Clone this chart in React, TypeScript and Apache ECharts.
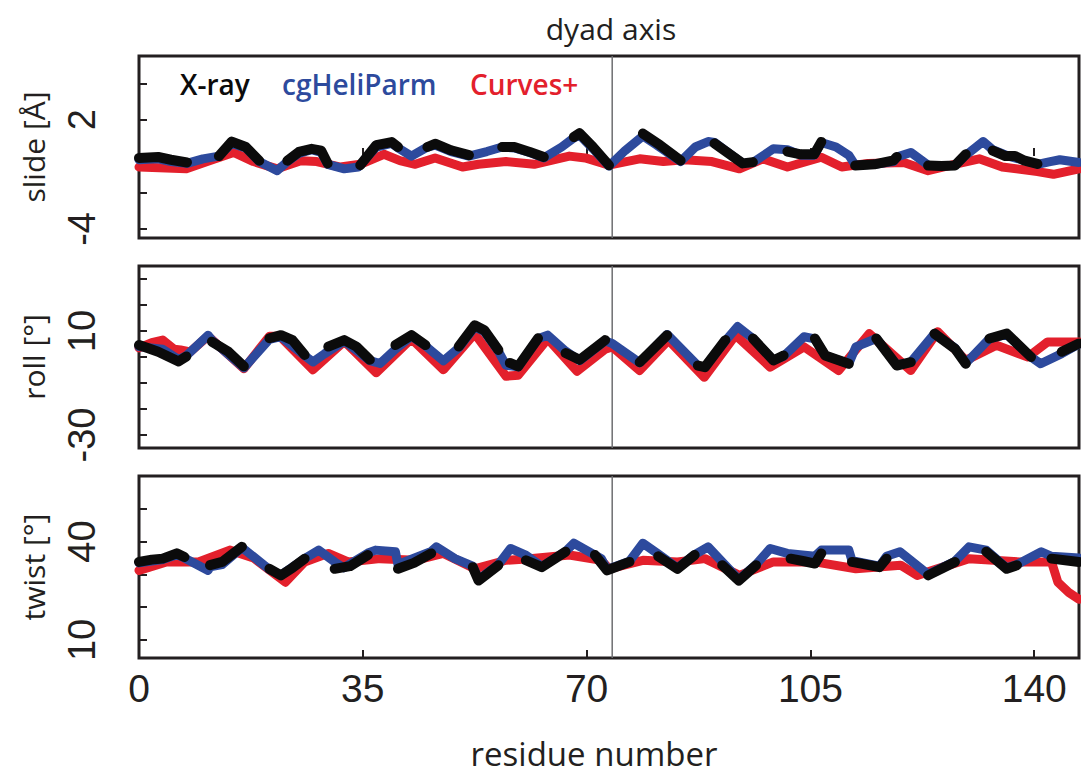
import React, { useEffect, useRef } from "react";
import * as echarts from "echarts";

type Pt = [number, number] | null;

// ---- axes / ticks ----
const residueTicks = [35, 70, 105, 140];
const residueLabels = [0, 35, 70, 105, 140];
const residueMax = 147;
const dyadResidue = 74;

const slideRange = [-4.5, 5.5];
const slideTicks = [-4, -2, 0, 2, 4];
const slideLabels = [-4, 2];
const rollRange = [-35, 35];
const rollTicks = [-30, -20, -10, 0, 10, 20, 30];
const rollLabels = [-30, 10];
const twistRange = [4.5, 60];
const twistTicks = [10, 20, 30, 40, 50];
const twistLabels = [10, 40];

const panelNames = ["slide [Å]", "roll [°]", "twist [°]"];
const legendNames = ["X-ray", "cgHeliParm", "Curves+"];

// ---- slide ----
const slideXray: Pt[] = [
  [0, -0.1], [3, -0.05], [5, -0.2], [7.5, -0.35], null,
  [12.5, 0.0], [14.5, 0.8], [16.7, 0.5], [18.8, -0.25], null,
  [23.2, -0.25], [25, 0.23], [27, 0.4], [28.5, 0.3], [29.5, -0.4], null,
  [34.6, -0.5], [37.1, 0.6], [39.5, 0.77], [40.5, 0.5], null,
  [45.1, 0.5], [46.3, 0.68], [48.8, 0.32], [51.6, 0.05], null,
  [56.8, 0.5], [58.7, 0.5], [61.1, 0.23], [63.3, -0.05], null,
  [68, 1.05], [68.9, 1.26], [71, 0.5], [73.5, -0.5], null,
  [78.8, 1.24], [81.5, 0.6], [84.7, -0.24], null,
  [90, 0.7], [94.4, -0.4], [96, -0.33], null,
  [101.4, 0.25], [103.5, 0.1], [105.6, 0.1], [106.7, 0.78], null,
  [112, -0.52], [115, -0.45], [118, -0.24], [118.5, -0.05], null,
  [123.4, -0.52], [125.5, -0.55], [127.6, -0.52], [129.3, 0.1], null,
  [133.5, 0.3], [135.5, 0.0], [137, 0.0], [138.5, -0.25], [140.5, -0.43],
];
const slideHeli: Pt[] = [
  [0, -0.2], [3, -0.15], [5, -0.3], [7.5, -0.4], [10, -0.15], [12.5, 0.0], [14.5, 0.7],
  [16.7, 0.45], [18.8, -0.3], [21.6, -0.8], [23.2, -0.3], [25, 0.15], [27, 0.35], [28.5, 0.2],
  [29.5, -0.45], [32.1, -0.7], [34.3, -0.6], [37.1, 0.5], [39.5, 0.7], [40.5, 0.45], [42.6, 0.0],
  [45.1, 0.5], [46.3, 0.6], [48.8, 0.25], [51.6, 0.0], [54.4, 0.25], [56.8, 0.5], [58.7, 0.45],
  [61.1, 0.2], [63.3, -0.1], [66.1, 0.5], [68, 1.0], [68.9, 1.15], [71, 0.4], [73.5, -0.55],
  [76, 0.3], [78.8, 1.1], [81, 0.6], [84.7, -0.3], [87, 0.5], [89, 0.8], [90, 0.75], [94.4, -0.4],
  [96, -0.35], [99.2, 0.4], [101.4, 0.35], [103.5, 0.05], [105.6, 0.05], [106.7, 0.75], [109, 0.5],
  [111, 0.05], [112, -0.5], [115, -0.45], [118, -0.3], [118.5, -0.05], [120.7, 0.2], [123.4, -0.5],
  [125.5, -0.55], [127.6, -0.5], [129.3, 0.05], [132, 0.8], [133.5, 0.35], [136, 0.0], [138, -0.2],
  [140.5, -0.45], [142.5, -0.3], [144, -0.2], [147, -0.35],
];
const slideCurves: Pt[] = [
  [0, -0.6], [7.4, -0.7], [11, -0.25], [14.8, 0.2], [17.9, -0.3], [21.6, -0.7], [25.3, -0.25],
  [27.8, -0.3], [31.5, -0.6], [34.6, -0.45], [38.3, 0.1], [40.8, -0.25], [43.2, -0.45], [46.3, -0.1],
  [50.6, -0.6], [53.1, -0.45], [57.4, -0.3], [61.8, -0.45], [67.3, 0.0], [69.8, -0.1], [73.5, -0.5],
  [78.3, -0.15], [82, -0.3], [85.3, -0.2], [89.6, -0.3], [93.9, -0.7], [97.6, -0.15], [101.4, -0.6],
  [106.7, -0.06], [109.9, -0.6], [114, -0.4], [119.6, -0.35], [123.4, -0.8], [127, -0.5],
  [131.4, -0.15], [135, -0.6], [140.5, -0.85], [143, -1.0], [147, -0.7],
];

// ---- roll ----
const rollXray: Pt[] = [
  [0, 4.6], [3, 2], [6.2, -1.7], [7.4, 0.2], null,
  [11.4, 5.9], [14, 2], [16.4, -3.6], null,
  [20.4, 7.2], [22.2, 8.4], [24, 6.5], [25.9, 0.8], null,
  [29.6, 4.0], [32.1, 6.5], [34, 4], [36.1, -1.1], null,
  [40.1, 4.6], [42.6, 8.4], [44.8, 4.6], null,
  [50, 4.0], [52.5, 12.2], [54, 10.3], [56.2, 2.7], null,
  [58, -2.3], [59.3, -3.6], [62.4, 7.2], null,
  [66.7, 1.5], [68.9, -1.1], [72.9, 6.5], null,
  [78.3, -2], [82.6, 8.4], null,
  [87.4, -3.3], [88.5, -3.9], [91.7, 6.5], null,
  [96, 7.1], [99.2, -1.3], [100.8, 0.6], null,
  [105.7, 7.1], [107.3, 0.6], [111, -2.6], null,
  [115.3, 7.1], [118.5, -3.3], [120.7, -2.0], null,
  [124.4, 9.0], [127.6, 3.2], [129.3, -2.6], null,
  [133, 7.1], [135.7, 9.0], [139.5, 0.0], null,
  [144.3, 2.0], [147, 5.2],
];
const rollHeli: Pt[] = [
  [0, 4.0], [3.7, 3.0], [6.2, -1.0], [7.4, 0.5], [10.8, 8.4], [11.4, 6.5], [16.4, -4.2], [20.4, 6.8],
  [22.2, 7.8], [25.9, 0.5], [27.2, -1.9], [29, 1.2], [32.1, 6.2], [36.1, -1.4], [37.7, -2.5],
  [40.1, 3.0], [42.6, 8.0], [44.8, 4.3], [47.6, -1.5], [50, 3.5], [52.5, 11.5], [54, 9.8], [56.2, 2.3],
  [57.4, -3.2], [59.3, -3.8], [62.4, 7.0], [63.9, 8.4], [66.7, 2.3], [68.9, -1.4], [72.9, 6.2],
  [74, 5.2], [78.3, -2.2], [82.6, 8.7], [87.4, -3.3], [88.5, -3.9], [91.7, 6.2], [93.6, 11.7],
  [96, 7.1], [99.2, -1.3], [100.8, 0.3], [104, 7.8], [105.7, 7.0], [107.3, 0.6], [111, -2.6],
  [112.1, 3.9], [115.3, 7.1], [118.5, -3.0], [120.7, -2.0], [124.4, 9.0], [127.6, 3.5], [129.3, -2.4],
  [133, 7.1], [135.7, 8.7], [139.5, 0.0], [141, -2.6], [144.3, 1.3], [147, 5.0],
];
const rollCurves: Pt[] = [
  [0, 3.5], [2, 5.5], [3.7, 6.5], [5.5, 3], [6.5, 2.7], [8, 2], [10.8, 8], [16.4, -4.5], [20.4, 8],
  [22, 8], [27.2, -4.9], [32.1, 6], [37.1, -6.1], [42.6, 7], [47.6, -4.9], [52.5, 9], [57.4, -7.4],
  [59.3, -7], [63.9, 7], [68.5, -5.5], [72.9, 3], [74, 3.9], [78.3, -5.2], [82.8, 6.5], [88.4, -7.8],
  [93.3, 8.4], [98.7, -3.9], [104, 3.9], [109.4, -5.2], [114.2, 9.0], [120.7, -5.2], [124.9, 9.7],
  [129.3, -1.3], [134.1, 4.5], [139, 0.0], [142.1, 5.8], [147, 5.8],
];

// ---- twist ----
const twistXray: Pt[] = [
  [0, 33.8], [2, 34.5], [3.7, 34.8], [5.9, 36.4], [7.1, 35.3], null,
  [11.1, 32.8], [13, 33.8], [16.1, 38.4], null,
  [20.4, 31.7], [22.2, 29.7], [24, 32], [25.9, 34.8], null,
  [30.6, 31.7], [33, 32.5], [35.8, 35.9], null,
  [40.5, 31.7], [43, 33.5], [45.7, 36.4], null,
  [52.2, 32.2], [53.1, 28.1], [56.2, 32.8], null,
  [60.5, 34.3], [63, 32.2], [66.7, 36.9], null,
  [71.3, 35.9], [73.2, 31.2], [76.7, 33.8], null,
  [81.2, 35.5], [84.2, 31.7], [86.9, 35.9], null,
  [91.2, 32.8], [93.8, 28.1], [96.5, 32.8], null,
  [101.9, 34.8], [104, 34], [105.7, 33.3], [106.7, 36.4], null,
  [111.5, 33.8], [115.8, 32.2], [116.9, 34.8], null,
  [123.4, 29.7], [127.6, 33.8], null,
  [132.5, 36.9], [135.7, 31.7], [137.3, 32.8], null,
  [142.7, 34.8], [147, 33.8],
];
const twistHeli: Pt[] = [
  [0, 33.5], [3.7, 34.5], [5.9, 36], [7.1, 35], [10.8, 31.2], [11.1, 32.3], [13, 33], [16.1, 38.2],
  [20.4, 31.5], [22.2, 29.8], [25.9, 34.8], [28.1, 37.4], [30.6, 33.8], [32, 32], [35.8, 36.5],
  [37, 37.4], [40.1, 36.9], [40.5, 33], [45.7, 37], [46.5, 38.4], [49.4, 34.8], [52.2, 32.5],
  [53.1, 28.5], [56.2, 33], [58.1, 37.9], [60.5, 35.9], [63, 32.4], [66.7, 37], [68, 39.5],
  [72.3, 34.8], [73.2, 31.5], [76.7, 34], [78.8, 39.5], [81.2, 36.2], [84.2, 32], [86.9, 36],
  [89, 38.4], [91.2, 33.8], [93.8, 28.5], [96.5, 33], [98.7, 37.9], [101.4, 36.4], [105.7, 35.5],
  [106.7, 37.4], [111, 37.4], [111.5, 34.2], [115.8, 32.5], [116.9, 35.5], [119, 36.9],
  [123.4, 30.0], [127.6, 34.0], [129.8, 38.4], [132.5, 37.4], [135.7, 32.0], [137.3, 33],
  [141.1, 36.9], [142.7, 35.5], [147, 35.0],
];
const twistCurves: Pt[] = [
  [0, 31.2], [4.3, 33.8], [9.3, 33.8], [14.2, 37.4], [17.9, 35.0], [22.9, 27.6], [25.9, 33.8],
  [29.6, 36.4], [32.7, 33.8], [37.7, 34.8], [43.2, 34.3], [47.6, 36.4], [52.5, 31.7], [57.4, 34.3],
  [61.1, 34.8], [67.3, 35.9], [72.3, 34.3], [73.5, 31.7], [78.8, 34.3], [84.2, 33.8], [88.5, 34.8],
  [93.9, 29.7], [99.2, 33.8], [105.7, 33.8], [112.1, 31.7], [119.1, 32.8], [121.7, 29.7],
  [129.8, 34.8], [137.8, 33.8], [142.7, 33.8], [143.7, 27.6], [145.4, 24.5], [147, 22.4],
];

const INK = "#231f20";
const BLACK = "#0b0b0b";
const BLUE = "#2d4a9d";
const RED = "#e3202c";
const SANS = "'Open Sans', 'Noto Sans', sans-serif";
const NUM = "'Liberation Sans', Arial, sans-serif";

function splitSegments(data: Pt[]): [number, number][][] {
  const segs: [number, number][][] = [];
  let cur: [number, number][] = [];
  for (const p of data) {
    if (p === null) {
      if (cur.length) segs.push(cur);
      cur = [];
    } else cur.push(p);
  }
  if (cur.length) segs.push(cur);
  return segs;
}

export default function App() {
  const ref = useRef<HTMLDivElement>(null);

  useEffect(() => {
    document.body.style.margin = "0";
    const chart = echarts.init(ref.current!, undefined, { renderer: "svg" });

    const panels = [
      { range: slideRange, ticks: slideTicks, labels: slideLabels, xray: slideXray, heli: slideHeli, curves: slideCurves },
      { range: rollRange, ticks: rollTicks, labels: rollLabels, xray: rollXray, heli: rollHeli, curves: rollCurves },
      { range: twistRange, ticks: twistTicks, labels: twistLabels, xray: twistXray, heli: twistHeli, curves: twistCurves },
    ];
    const tops = [56, 266, 476];

    const grid = tops.map((t) => ({
      left: 139,
      top: t,
      width: 940,
      height: 182,
      show: true,
      borderColor: INK,
      borderWidth: 3,
      backgroundColor: "transparent",
    }));

    const xAxis = panels.map((_, i) => ({
      type: "value",
      gridIndex: i,
      min: 0,
      max: residueMax,
      axisLine: { show: false },
      splitLine: { show: false },
      axisTick: {
        show: i !== 1,
        inside: true,
        length: 8,
        customValues: residueTicks,
        lineStyle: { color: INK, width: 2 },
      },
      axisLabel: {
        show: i === 2,
        customValues: residueLabels,
        fontSize: 39,
        fontFamily: NUM,
        color: INK,
        margin: 11,
      },
    }));

    const yAxis = panels.map((p, i) => ({
      type: "value",
      gridIndex: i,
      min: p.range[0],
      max: p.range[1],
      name: panelNames[i],
      nameLocation: "middle",
      nameRotate: 90,
      nameGap: 91,
      nameTextStyle: { fontSize: 30, fontFamily: SANS, color: INK },
      axisLine: { show: false },
      splitLine: { show: false },
      axisTick: {
        show: true,
        inside: true,
        length: 8,
        customValues: p.ticks,
        lineStyle: { color: INK, width: 2 },
      },
      axisLabel: {
        show: true,
        customValues: p.labels,
        rotate: 90,
        fontSize: 38,
        fontFamily: NUM,
        color: INK,
        margin: 38,
      },
    }));

    const series: any[] = [];
    panels.forEach((p, i) => {
      series.push({
        type: "line",
        xAxisIndex: i,
        yAxisIndex: i,
        data: [
          [dyadResidue, p.range[0]],
          [dyadResidue, p.range[1]],
        ],
        symbol: "none",
        silent: true,
        lineStyle: { color: "#6d6e71", width: 1.5 },
      });
      series.push({
        type: "line",
        name: legendNames[2],
        xAxisIndex: i,
        yAxisIndex: i,
        data: p.curves,
        symbol: "none",
        silent: true,
        lineStyle: { color: RED, width: 9, cap: "round", join: "round" },
      });
      series.push({
        type: "line",
        name: legendNames[1],
        xAxisIndex: i,
        yAxisIndex: i,
        data: p.heli,
        symbol: "none",
        silent: true,
        lineStyle: { color: BLUE, width: 9, cap: "round", join: "round" },
      });
      splitSegments(p.xray).forEach((seg) => {
        series.push({
          type: "line",
          name: legendNames[0],
          xAxisIndex: i,
          yAxisIndex: i,
          data: seg,
          symbol: "none",
          silent: true,
          lineStyle: { color: BLACK, width: 10, cap: "round", join: "round" },
        });
      });
    });

    const legendX = [180, 282, 470];
    const legendColors = [BLACK, BLUE, RED];

    chart.setOption({
      animation: false,
      backgroundColor: "#ffffff",
      grid,
      xAxis,
      yAxis,
      series,
      graphic: [
        {
          type: "text",
          style: {
            text: "dyad axis",
            x: 611,
            y: 28,
            fontSize: 30,
            fontFamily: SANS,
            fill: INK,
            textAlign: "center",
            textVerticalAlign: "middle",
          },
        },
        {
          type: "text",
          style: {
            text: "residue number",
            x: 594,
            y: 753,
            fontSize: 33,
            fontFamily: SANS,
            fill: INK,
            textAlign: "center",
            textVerticalAlign: "middle",
          },
        },
        ...legendNames.map((n, k) => ({
          type: "text",
          z: 100,
          style: {
            text: n,
            x: legendX[k],
            y: 84,
            fontSize: 28,
            fontWeight: 600,
            fontFamily: SANS,
            fill: legendColors[k],
            textAlign: "left",
            textVerticalAlign: "middle",
          },
        })),
      ],
    });

    return () => chart.dispose();
  }, []);

  return (
    <div
      ref={ref}
      style={{ position: "absolute", left: 0, top: 0, width: 1081, height: 774, background: "#fff" }}
    />
  );
}
